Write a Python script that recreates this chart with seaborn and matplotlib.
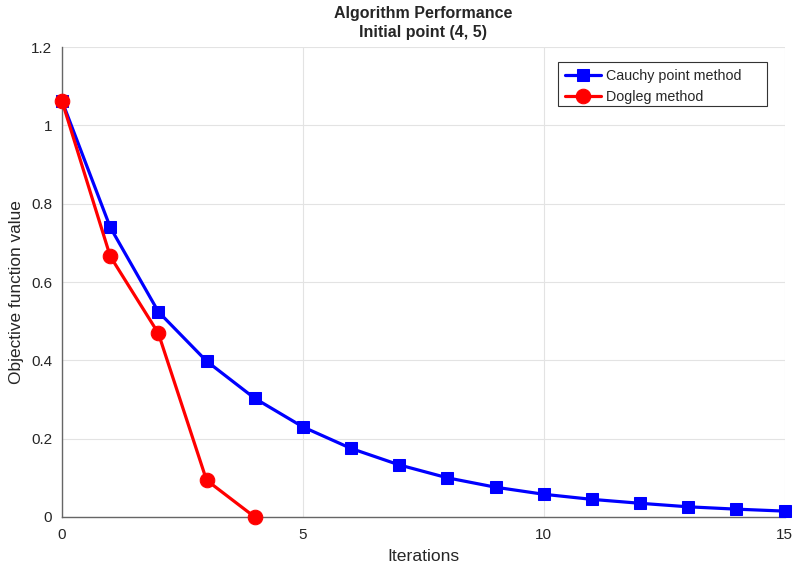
import matplotlib
matplotlib.use("Agg")
import matplotlib.pyplot as plt
from matplotlib.patches import Rectangle
import seaborn as sns
import pandas as pd

cauchy_iter = list(range(16))
cauchy_vals = [1.062, 0.740, 0.524, 0.398, 0.303, 0.230, 0.175, 0.133, 0.100,
               0.076, 0.058, 0.045, 0.035, 0.026, 0.020, 0.015]
dogleg_iter = list(range(5))
dogleg_vals = [1.062, 0.666, 0.469, 0.094, 0.0]

labels = ["Cauchy point method", "Dogleg method"]
x_ticks = [0, 5, 10, 15]
y_ticks = [0, 0.2, 0.4, 0.6, 0.8, 1.0, 1.2]
y_tick_labels = ["0", "0.2", "0.4", "0.6", "0.8", "1", "1.2"]

sns.set_style("whitegrid")
plt.rcParams["font.family"] = ["Liberation Sans", "DejaVu Sans"]

df_c = pd.DataFrame({"Iteration": cauchy_iter, "Value": cauchy_vals})
df_d = pd.DataFrame({"Iteration": dogleg_iter, "Value": dogleg_vals})

fig = plt.figure(figsize=(7.95, 5.7), dpi=100)
ax = fig.add_axes([0.078, 0.093, 0.909, 0.8245])

sns.lineplot(data=df_c, x="Iteration", y="Value", ax=ax, color="#0000ff",
             marker="s", markersize=8.5, linewidth=2.3, markeredgecolor="#0000ff",
             label=labels[0], clip_on=False, zorder=3)
sns.lineplot(data=df_d, x="Iteration", y="Value", ax=ax, color="#ff0000",
             marker="o", markersize=10.5, linewidth=2.3, markeredgecolor="#ff0000",
             label=labels[1], clip_on=False, zorder=4)

ax.set_xlim(0, 15)
ax.set_ylim(0, 1.2)
ax.set_xticks(x_ticks)
ax.set_yticks(y_ticks)
ax.set_yticklabels(y_tick_labels)
ax.grid(True, color="#e3e3e3", linewidth=0.8)
ax.set_axisbelow(True)

for side in ["top", "right"]:
    ax.spines[side].set_visible(False)
for side in ["left", "bottom"]:
    ax.spines[side].set_color("#666666")
    ax.spines[side].set_linewidth(1.0)
ax.tick_params(axis="both", direction="in", length=6, width=1, color="#555555",
               labelsize=11, labelcolor="#262626")
ax.tick_params(axis="y", pad=7)
ax.tick_params(axis="x", pad=8)

ax.set_xlabel("Iterations", fontsize=12.6, color="#262626", labelpad=5)
ax.set_ylabel("Objective function value", fontsize=12.4, color="#262626")
ax.yaxis.set_label_coords(-0.053, 0.479)
ax.set_title("Algorithm Performance\nInitial point (4, 5)", fontsize=11.5,
             fontweight="bold", linespacing=1.35, pad=7)

# legend box with extra room on the right
box_x0, box_y0, box_x1, box_y1 = 0.686, 0.874, 0.975, 0.968
ax.add_patch(Rectangle((box_x0, box_y0), box_x1 - box_x0, box_y1 - box_y0,
                       transform=ax.transAxes, facecolor="white",
                       edgecolor="#333333", linewidth=0.8, zorder=5))
leg = ax.legend(loc="upper left", bbox_to_anchor=(box_x0, box_y1), borderaxespad=0,
                fontsize=10.3, frameon=False, borderpad=0.5, handlelength=2.5,
                handletextpad=0.35, labelspacing=0.45)
leg.set_zorder(6)

fig.savefig("out.png", dpi=100)
